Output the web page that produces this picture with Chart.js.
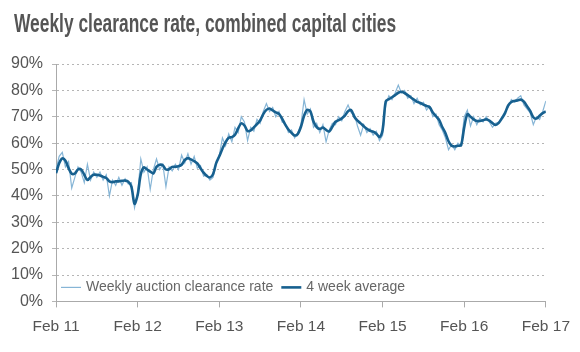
<!DOCTYPE html>
<html>
<head>
<meta charset="utf-8">
<script src="https://cdn.jsdelivr.net/npm/chart.js@4.4.0/dist/chart.umd.min.js"></script>
<style>
    html, body { margin: 0; padding: 0; background: #fff; }
    #wrap { position: relative; width: 580px; height: 352px; overflow: hidden; }
    #title {
        position: absolute; left: 14px; top: 9px;
        font-family: 'Liberation Sans', Arial, sans-serif;
        font-weight: bold; font-size: 25px; line-height: 28px; color: #555;
        white-space: nowrap;
        transform: scaleX(0.695);
        transform-origin: left top;
    }
    #chart { position: absolute; left: 0; top: 0; }
</style>
</head>
<body>
<div id="wrap">
    <canvas id="chart" width="580" height="352"></canvas>
    <div id="title">Weekly clearance rate, combined capital cities</div>
</div>
<script>
// fortnightly readings, Feb 2011 to Feb 2017
const startYear = 11;
const pointsPerYear = 26;

const weeklyRate = [
    50, 55, 56.5, 51, 53, 43, 47, 51, 49, 45, 52, 46, 49, 47, 49, 46, 48, 40, 46, 44, 47, 44, 46.5, 44.5, 45, 35.5,
    41, 54, 49, 51, 42.5, 50, 54, 50, 52, 43.5, 51, 49.5, 52, 50, 55.5, 52.5, 56, 52, 55, 50.5, 51.5, 47.5, 48, 46, 47, 52,
    55.5, 62, 59, 63.5, 60.5, 66, 64, 70, 68, 61, 66, 64.5, 69, 67.5, 72, 75, 72, 73.5, 70, 72, 68, 67.5, 64, 65, 62, 64,
    67, 76.5, 71, 73, 66, 67.5, 64, 67, 60.5, 65, 67.5, 67, 70, 68.5, 72, 74.5, 71.5, 71, 66.5, 63, 67, 64, 65.5, 63, 64.5, 61,
    63, 74.5, 78, 76.5, 79, 82, 79, 80, 77, 78, 75, 77, 74.5, 75.5, 72.5, 74, 70, 71, 67, 65, 62, 57.5, 59.5, 57.5, 60, 59,
    70, 72.5, 66.5, 70, 67, 69.5, 68, 70, 68, 66, 67.5, 68, 70, 72, 73.5, 76.5, 75.5, 77, 78, 74.5, 73, 71.5, 67, 70, 69, 72, 76
];

const fourWeekAvg = [
    48.6, 52.4, 54.2, 53.3, 50.5, 48.4, 48.5, 50, 50, 48, 46, 47.2, 48, 48, 47.7, 47.2, 46.8, 45.5, 45.2, 45.5, 45.5, 45.7, 45.8, 45.4, 43.5, 37,
    40.4, 48.2, 50.8, 50, 49.2, 48.5, 51, 51.8, 51.6, 50, 50.1, 51, 51, 51.2, 51.8, 53.6, 54.3, 53.8, 53.2, 52.3, 50.5, 48.8, 47.6, 47, 48.2, 52.4,
    55, 57.9, 60.4, 62, 62.3, 63.2, 65.6, 67.5, 66.7, 64.6, 64.8, 66, 67.2, 68.6, 71, 72.6, 73.1, 72.4, 71.7, 71.1, 69.3, 67, 65.2, 63.9, 62.9, 63.5,
    66.2, 70.4, 72.6, 72, 68.2, 66.1, 65.4, 65.9, 65, 64.4, 66.2, 68.1, 68.7, 69.4, 70.4, 72.1, 72.5, 70, 68.5, 67.5, 66.4, 65.4, 64.7, 64.3, 63.6, 62.3,
    65, 75.8, 76.7, 77.4, 78.2, 79.1, 79.5, 79, 78.2, 77.3, 76.5, 75.6, 75.2, 74.6, 74.1, 73.6, 71.6, 70.2, 68.8, 66.1, 63.8, 60.7, 59, 58.7, 59, 59.2,
    66, 71, 70, 69, 68.4, 68.4, 68.7, 69, 68.5, 67.6, 66.9, 67.7, 69.4, 71.4, 74.3, 75.6, 76, 76.2, 76.5, 75.7, 74, 72.2, 69.8, 69.3, 70.4, 71.4, 72
];

const yearTicks = [0, 1, 2, 3, 4, 5, 6];
const seriesNames = ['Weekly auction clearance rate', '4 week average'];

const colors = {
    weekly: '#86b5d6',
    average: '#17608f',
    text: '#555555',
    legendText: '#666666',
    grid: '#b5b5b5',
    axis: '#aaaaaa'
};

const fontFamily = "'Liberation Sans', Arial, sans-serif";

function toPoints(values) {
    return values.map((v, i) => ({ x: i / pointsPerYear, y: v }));
}

// legend drawn inside the plot, bottom left
const insideLegend = {
    id: 'insideLegend',
    afterDraw(chart) {
        const ctx = chart.ctx;
        const area = chart.chartArea;
        const y = area.bottom - 14;
        let x = area.left + 5;
        ctx.save();
        ctx.font = '14px ' + fontFamily;
        ctx.textBaseline = 'middle';
        chart.data.datasets.forEach(ds => {
            ctx.strokeStyle = ds.borderColor;
            ctx.lineWidth = ds.borderWidth;
            ctx.beginPath();
            ctx.moveTo(x, y);
            ctx.lineTo(x + 20, y);
            ctx.stroke();
            x += 25;
            ctx.fillStyle = colors.legendText;
            ctx.fillText(ds.label, x, y);
            x += ctx.measureText(ds.label).width + 8;
        });
        ctx.restore();
    }
};

const ctx = document.getElementById('chart').getContext('2d');
new Chart(ctx, {
    type: 'line',
    data: {
        datasets: [
            {
                label: seriesNames[0],
                data: toPoints(weeklyRate),
                borderColor: colors.weekly,
                borderWidth: 1.2,
                pointRadius: 0,
                tension: 0,
                order: 2
            },
            {
                label: seriesNames[1],
                data: toPoints(fourWeekAvg),
                borderColor: colors.average,
                borderWidth: 2.6,
                pointRadius: 0,
                tension: 0.3,
                order: 1
            }
        ]
    },
    options: {
        responsive: false,
        animation: false,
        layout: { padding: { top: 64, right: 32, bottom: 6, left: 2 } },
        plugins: {
            legend: { display: false },
            tooltip: { enabled: false }
        },
        scales: {
            x: {
                type: 'linear',
                min: 0,
                max: 6,
                afterBuildTicks: axis => { axis.ticks = yearTicks.map(v => ({ value: v })); },
                ticks: {
                    color: colors.text,
                    font: { family: fontFamily, size: 15.5 },
                    padding: 10,
                    maxRotation: 0,
                    callback: v => 'Feb ' + (startYear + v)
                },
                grid: { drawOnChartArea: false, drawTicks: true, tickLength: 6, color: colors.axis },
                border: { display: true, color: colors.axis }
            },
            y: {
                min: 0,
                max: 90,
                ticks: {
                    stepSize: 10,
                    color: colors.text,
                    font: { family: fontFamily, size: 16 },
                    padding: 9,
                    callback: v => v + '%'
                },
                grid: { color: colors.grid, tickLength: 4 },
                border: { display: true, color: colors.axis, dash: [2, 3] }
            }
        }
    },
    plugins: [insideLegend]
});
</script>
</body>
</html>
